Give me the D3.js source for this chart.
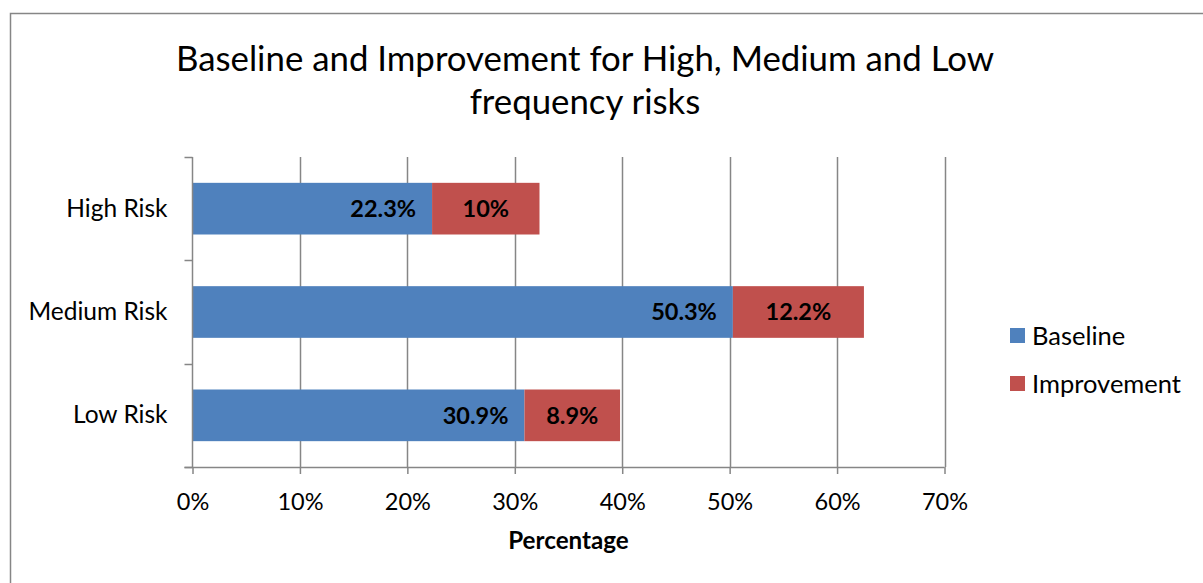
<!DOCTYPE html>
<html>
<head>
<meta charset="utf-8">
<script src="https://cdn.jsdelivr.net/npm/d3@7"></script>
<style>
  html, body { margin: 0; padding: 0; background: #fff; }
  svg { display: block; font-family: Lato, "Open Sans", sans-serif; }
</style>
</head>
<body>
<svg id="chart" width="1203" height="583"></svg>
<script>
// Risk categories, top to bottom
const categories = ["High Risk", "Medium Risk", "Low Risk"];
// Percentages per series
const baseline = [22.3, 50.3, 30.9];
const improvement = [10, 12.2, 8.9];
const seriesNames = ["Baseline", "Improvement"];
const seriesColors = ["#4F81BD", "#C0504D"];
const xTicks = [0, 10, 20, 30, 40, 50, 60, 70];
const titleLines = ["Baseline and Improvement for High, Medium and Low", "frequency risks"];
const xTitle = "Percentage";

const svg = d3.select("#chart");

// Chart frame
svg.append("rect")
  .attr("x", 10.5).attr("y", 13.5)
  .attr("width", 1220).attr("height", 600)
  .attr("fill", "#fff").attr("stroke", "#868686").attr("stroke-width", 1.5);

const plot = { left: 192.5, right: 944.5, top: 157, bottom: 467 };

const x = d3.scaleLinear().domain([0, 70]).range([plot.left, plot.right]);
const y = d3.scaleBand().domain(categories).range([plot.top, plot.bottom]).paddingInner(0.5).paddingOuter(0.25);
const yOuter = d3.scaleBand().domain(categories).range([plot.top, plot.bottom]);

// Title
svg.append("text")
  .attr("x", 585).attr("y", 71)
  .attr("text-anchor", "middle")
  .attr("font-size", 34.8).attr("fill", "#000")
  .selectAll("tspan").data(titleLines).join("tspan")
  .attr("x", 585).attr("dy", (d, i) => i === 0 ? 0 : 43)
  .text(d => d);

// Vertical gridlines
svg.append("g").selectAll("line").data(xTicks.slice(1)).join("line")
  .attr("x1", d => Math.round(x(d)) + 0.5).attr("x2", d => Math.round(x(d)) + 0.5)
  .attr("y1", plot.top).attr("y2", plot.bottom)
  .attr("stroke", "#868686").attr("stroke-width", 1.5);

// Stacked bars
const rows = categories.map((c, i) => ({ cat: c, vals: [baseline[i], improvement[i]] }));
const segs = [];
rows.forEach(r => {
  let acc = 0;
  r.vals.forEach((v, k) => {
    segs.push({ cat: r.cat, k, v, x0: acc, x1: acc + v });
    acc += v;
  });
});

svg.append("g").selectAll("rect").data(segs).join("rect")
  .attr("x", d => x(d.x0))
  .attr("y", d => y(d.cat))
  .attr("width", d => x(d.x1) - x(d.x0))
  .attr("height", y.bandwidth())
  .attr("fill", d => seriesColors[d.k]);

// Data labels: baseline at inside end, improvement centered
svg.append("g").selectAll("text").data(segs).join("text")
  .attr("x", d => d.k === 0 ? x(d.x1) - 16 : (x(d.x0) + x(d.x1)) / 2)
  .attr("y", d => y(d.cat) + y.bandwidth() / 2)
  .attr("dy", "0.36em")
  .attr("text-anchor", d => d.k === 0 ? "end" : "middle")
  .attr("font-size", 23.5).attr("font-weight", "bold").attr("fill", "#000")
  .text(d => d.v + "%");

// X axis
const xAxis = svg.append("g")
  .attr("transform", `translate(0,${plot.bottom})`)
  .call(d3.axisBottom(x).tickValues(xTicks).tickFormat(d => d + "%").tickSize(7).tickPadding(19));
xAxis.select(".domain").attr("stroke", "#868686").attr("stroke-width", 1.5)
  .attr("d", `M${plot.left - 8},0.5H${plot.right}`);
xAxis.selectAll(".tick line").attr("stroke", "#868686").attr("stroke-width", 1.5);
xAxis.selectAll(".tick text").attr("font-size", 23.5).attr("font-family", "Lato, sans-serif").attr("fill", "#000");

// Y axis
const yAxis = svg.append("g")
  .attr("transform", `translate(${plot.left},0)`)
  .call(d3.axisLeft(yOuter).tickSize(0).tickPadding(25));
yAxis.select(".domain").attr("stroke", "#868686").attr("stroke-width", 1.5)
  .attr("d", `M0,${plot.bottom}V${plot.top}`);
yAxis.selectAll(".tick text").attr("font-size", 24.5).attr("font-family", "Lato, sans-serif").attr("fill", "#000");
// Category separator ticks
yAxis.append("g").selectAll("line")
  .data([plot.top, ...categories.slice(1).map(c => yOuter(c)), plot.bottom])
  .join("line")
  .attr("x1", -8).attr("x2", 0)
  .attr("y1", d => Math.round(d) + 0.5).attr("y2", d => Math.round(d) + 0.5)
  .attr("stroke", "#868686").attr("stroke-width", 1.5);

// Axis title
svg.append("text")
  .attr("x", (plot.left + plot.right) / 2).attr("y", 549)
  .attr("text-anchor", "middle")
  .attr("font-size", 24.2).attr("font-weight", "bold").attr("fill", "#000")
  .text(xTitle);

// Legend
const legend = svg.append("g").attr("transform", "translate(1010,328)");
const li = legend.selectAll("g").data(seriesNames).join("g")
  .attr("transform", (d, i) => `translate(0,${i * 48})`);
li.append("rect").attr("width", 15).attr("height", 15).attr("fill", (d, i) => seriesColors[i]);
li.append("text").attr("x", 22).attr("y", 7.5).attr("dy", "0.36em")
  .attr("font-size", 25.5).attr("fill", "#000").text(d => d);
</script>
</body>
</html>
